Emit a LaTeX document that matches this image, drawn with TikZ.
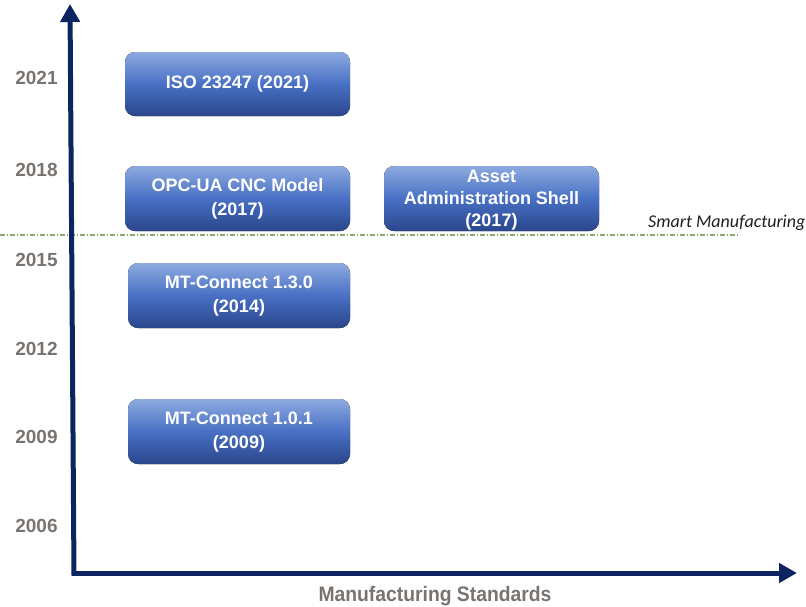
\documentclass[tikz,border=0pt]{standalone}
\usepackage{fontspec}
\setmainfont{Liberation Sans}
\newfontfamily\calibrifont{Carlito}
\newfontfamily\condensedsans{Liberation Sans}[FakeStretch=0.92]
\usetikzlibrary{arrows.meta,calc}

\definecolor{axisnavy}{RGB}{12,36,96}
\definecolor{yeargray}{RGB}{122,116,112}
\definecolor{boxtop}{RGB}{142,170,224}
\definecolor{boxmid}{RGB}{72,112,196}
\definecolor{boxbot}{RGB}{42,70,140}
\definecolor{phaseline}{RGB}{140,165,110}

\tikzset{
  stdbox/.style={rounded corners=10pt, top color=boxtop, bottom color=boxbot,
    middle color=boxmid, draw=none},
  stdtext/.style={text=white, font=\fontsize{18}{24}\selectfont\bfseries,
    align=center, inner sep=0pt},
  yearlabel/.style={text=yeargray, font=\fontsize{19}{20}\selectfont\bfseries,
    inner sep=0pt},
  axisline/.style={draw=axisnavy, line width=5pt,
    -{Triangle[length=18pt,width=19pt]}},
}

\begin{document}
\begin{tikzpicture}[x=1pt, y=-1pt]
\useasboundingbox (0,0) rectangle (806,606);

% phase divider
\draw[phaseline, line width=1.1pt, dash pattern=on 5pt off 2pt on 1pt off 2pt]
  (0,235) -- (740,235);
\node[anchor=base west, inner sep=0pt, font=\calibrifont\fontsize{18}{20}\selectfont\itshape,
  text=black!88] (smart) at (648,227) {Smart Manufacturing};

% axes
\coordinate (origin) at (74,573);
\coordinate (ytip) at (70,4);
\coordinate (xtip) at (797,573);
\draw[axisline] ($(origin)+(0,2.5)$) -- (ytip);
\draw[axisline] ($(origin)+(-2.5,0)$) -- (xtip);

% year ticks
\node[yearlabel] (y2021) at (36.5,78) {2021};
\node[yearlabel] (y2018) at (36.5,170) {2018};
\node[yearlabel] (y2015) at (36.5,260) {2015};
\node[yearlabel] (y2012) at (36.5,349) {2012};
\node[yearlabel] (y2009) at (36.5,437) {2009};
\node[yearlabel] (y2006) at (36.5,526) {2006};

% standards
\fill[stdbox] (125,52) rectangle (350,116);
\node[stdtext] (iso) at (237.5,84) {ISO 23247 (2021)};

\fill[stdbox] (125,166) rectangle (350,231);
\node[stdtext] (opcua) at (237.5,199) {OPC-UA CNC Model\\(2017)};

\fill[stdbox] (384,166) rectangle (599,231);
\node[stdtext, font=\fontsize{18}{22}\selectfont\bfseries] (aas) at (491.5,200)
  {Asset\\Administration Shell\\(2017)};

\fill[stdbox] (128,263) rectangle (350,328);
\node[stdtext] (mtc13) at (239,296) {MT-Connect 1.3.0\\(2014)};

\fill[stdbox] (128,399) rectangle (350,464);
\node[stdtext] (mtc10) at (239,432) {MT-Connect 1.0.1\\(2009)};

% axis title
\node[anchor=base, inner sep=0pt, text=yeargray,
  font=\condensedsans\fontsize{21}{22}\selectfont\bfseries] (xlabel) at (435,601)
  {Manufacturing Standards};
\end{tikzpicture}
\end{document}
